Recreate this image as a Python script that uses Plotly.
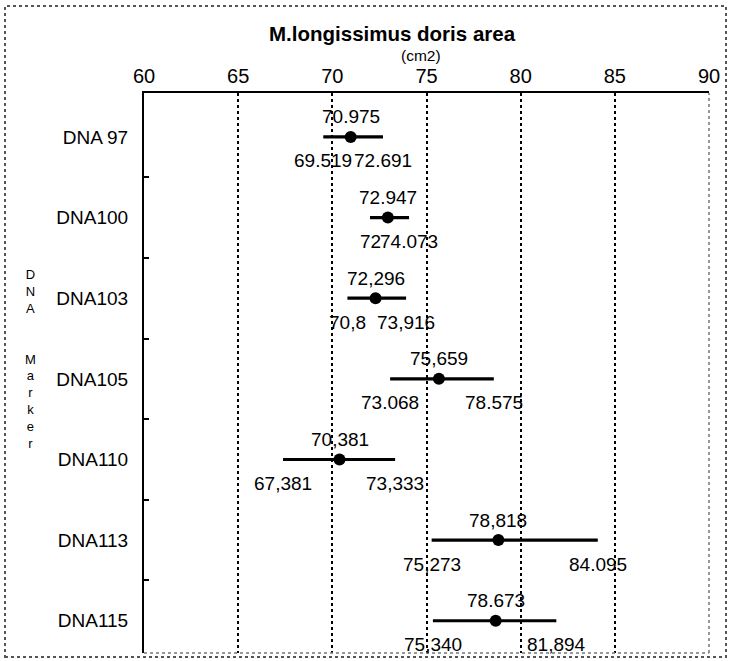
import plotly.graph_objects as go

# ---- data ----
markers = ["DNA 97", "DNA100", "DNA103", "DNA105", "DNA110", "DNA113", "DNA115"]
means = [70.975, 72.947, 72.296, 75.659, 70.381, 78.818, 78.673]
lows = [69.519, 72.0, 70.8, 73.068, 67.381, 75.273, 75.340]
highs = [72.691, 74.073, 73.916, 78.575, 73.333, 84.095, 81.894]
mean_labels = ["70.975", "72.947", "72,296", "75,659", "70,381", "78,818", "78.673"]
low_labels = ["69.519", "72", "70,8", "73.068", "67,381", "75,273", "75,340"]
high_labels = ["72.691", "74.073", "73,916", "78.575", "73,333", "84.095", "81,894"]
x_ticks = [60, 65, 70, 75, 80, 85, 90]
y_title = "DNA  Marker"

FONT = "Liberation Sans"

n = len(markers)
ypos = list(range(n))

L, R, T, B = 144, 20, 93, 8
W, H = 729, 661
PW, PH = W - L - R, H - T - B


def px(xp):
    return (xp - L) / PW


def py(yp):
    return (H - B - yp) / PH


fig = go.Figure()
fig.add_trace(go.Scatter(
    x=means, y=ypos, mode="markers",
    marker=dict(symbol="circle", size=12, color="black"),
    error_x=dict(type="data", symmetric=False,
                 array=[h - m for h, m in zip(highs, means)],
                 arrayminus=[m - l for m, l in zip(means, lows)],
                 color="black", thickness=3.2, width=0),
    showlegend=False, hoverinfo="skip",
))

ann = []
lab_font = dict(family=FONT, size=19, color="black")
for i in range(n):
    ann.append(dict(x=means[i], y=ypos[i], text=mean_labels[i], showarrow=False,
                    xanchor="center", yanchor="middle", yshift=20, font=lab_font))
    ann.append(dict(x=lows[i], y=ypos[i], text=low_labels[i], showarrow=False,
                    xanchor="center", yanchor="middle", yshift=-24, font=lab_font))
    ann.append(dict(x=highs[i], y=ypos[i], text=high_labels[i], showarrow=False,
                    xanchor="center", yanchor="middle", yshift=-24, font=lab_font))

# titles
ann.append(dict(x=px(392), y=py(34), xref="paper", yref="paper",
                text="<b>M.longissimus doris area</b>", xanchor="center", yanchor="middle",
                showarrow=False, font=dict(family=FONT, size=20.5, color="black")))
ann.append(dict(x=px(421), y=py(55), xref="paper", yref="paper", text="(cm2)",
                xanchor="center", yanchor="middle",
                showarrow=False, font=dict(family=FONT, size=15.5, color="black")))

# vertical y-axis title, stacked letters (one text, one letter per line)
ann.append(dict(x=px(30), y=py(359), xref="paper", yref="paper",
                text="<br>".join(ch if ch != " " else "" for ch in y_title),
                showarrow=False, xanchor="center", yanchor="middle", align="center",
                font=dict(family=FONT, size=13, color="black")))

shapes = [
    # right & bottom plot border (light)
    dict(type="line", xref="paper", yref="paper", x0=1, x1=1, y0=0, y1=1,
         line=dict(color="#777", width=1.5, dash="dot")),
    dict(type="line", xref="paper", yref="paper", x0=0, x1=1, y0=0, y1=0,
         line=dict(color="#777", width=1.5, dash="dot")),
    # outer frame of the image
    dict(type="rect", xref="paper", yref="paper",
         x0=px(5), x1=px(726), y0=py(657), y1=py(6),
         line=dict(color="#555", width=2, dash="dot")),
]

fig.update_layout(
    width=W, height=H,
    margin=dict(l=L, r=R, t=T, b=B),
    paper_bgcolor="white", plot_bgcolor="white",
    annotations=ann, shapes=shapes,
    xaxis=dict(side="top", range=[60, 90], tickvals=x_ticks,
               tickfont=dict(family=FONT, size=20, color="black"),
               ticks="", ticklabelstandoff=0,
               showgrid=True, gridcolor="black", gridwidth=1.5, griddash="dot",
               showline=True, linecolor="black", linewidth=2,
               zeroline=False),
    yaxis=dict(range=[6.40, -0.545], tickmode="array", tickvals=ypos, ticktext=markers,
               tickfont=dict(family=FONT, size=19, color="black"),
               ticks="", ticklabelstandoff=10,
               minor=dict(tickvals=[i + 0.5 for i in range(n - 1)], ticks="inside",
                          ticklen=5, tickwidth=1.5, tickcolor="black", showgrid=False),
               showgrid=False, showline=True, linecolor="black", linewidth=2,
               zeroline=False),
)

fig.write_html("out.html", config={"displayModeBar": False},
               post_script="document.body.style.margin='0';document.body.style.overflow='hidden';")
